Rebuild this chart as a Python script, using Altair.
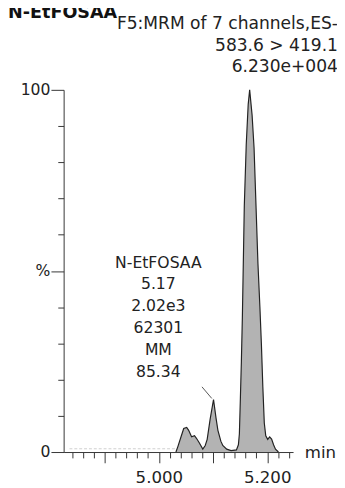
import altair as alt
import pandas as pd

# ---------------- data ----------------
time_min = [5.0315, 5.0351, 5.0405, 5.0459, 5.0514, 5.0550, 5.0604, 5.0658, 5.0694,
            5.0748, 5.0811, 5.0856, 5.0892, 5.0946, 5.1009, 5.1054, 5.1090, 5.1144,
            5.1180, 5.1252, 5.1333, 5.1432, 5.1468, 5.1486, 5.1505, 5.1523, 5.1541,
            5.1577, 5.1613, 5.1649, 5.1676, 5.1721, 5.1757, 5.1793, 5.1829, 5.1865,
            5.1892, 5.1919, 5.1946, 5.1973, 5.2009, 5.2045, 5.2081, 5.2117, 5.2153,
            5.2207]
intensity_pct = [0.0, 1.5, 4.0, 6.5, 6.8, 6.0, 4.2, 4.5, 3.8,
                 2.5, 0.8, 1.8, 3.5, 9.0, 14.5, 9.5, 6.0, 3.0,
                 1.8, 0.8, 0.4, 0.6, 2.0, 5.0, 15.0, 25.0, 37.0,
                 68.0, 85.0, 96.0, 100.0, 93.0, 84.0, 68.0, 52.0, 40.0,
                 30.0, 18.0, 8.0, 4.5, 3.5, 4.2, 3.6, 2.0, 0.8,
                 0.0]

baseline_time = [4.835, 5.030]
baseline_pct = [0.9, 0.9]

leader_time = [5.0796, 5.0977]
leader_pct = [18.0, 14.8]

x_ticks = [4.84, 4.86, 4.88, 4.90, 4.92, 4.94, 4.96, 4.98, 5.00, 5.02, 5.04,
           5.06, 5.08, 5.10, 5.12, 5.14, 5.16, 5.18, 5.20, 5.22, 5.24]
y_ticks = [0, 10, 20, 30, 40, 50, 60, 70, 80, 90, 100]

compound_title = "N-EtFOSAA"
header_lines = ["F5:MRM of 7 channels,ES-", "583.6 > 419.1", "6.230e+004"]
peak_label_lines = ["N-EtFOSAA", "5.17", "2.02e3", "62301", "MM", "85.34"]
x_unit = "min"

FONT = "DejaVu Sans"
INK = "#222222"

trace = pd.DataFrame({"t": time_min, "pct": intensity_pct})
base = pd.DataFrame({"t": baseline_time, "pct": baseline_pct})
leader = pd.DataFrame({"t": [leader_time[0]], "t2": [leader_time[1]],
                       "pct": [leader_pct[0]], "pct2": [leader_pct[1]]})
one_row = pd.DataFrame({"k": [0]})

x_scale = alt.Scale(domain=[4.8243, 5.2477], nice=False, zero=False)
y_scale = alt.Scale(domain=[0, 100], nice=False, zero=True)

x_axis = alt.Axis(
    values=x_ticks, tickCount=100, title=None, grid=False,
    labelExpr="abs(datum.value-5)<0.001 ? '5.000' : (abs(datum.value-5.2)<0.001 ? '5.200' : '')",
    tickSize={"condition": {"test": "abs(datum.value*10 - round(datum.value*10)) < 0.001", "value": 11}, "value": 6},
    labelFont=FONT, labelFontSize=17, labelColor=INK, labelPadding=7,
    labelFlush=False, labelOverlap=False,
    domainColor="#333333", tickColor="#333333", domainWidth=1, tickWidth=1,
)
y_axis = alt.Axis(
    values=y_ticks, tickCount=100, title=None, grid=False,
    labelExpr="datum.value==100 ? '100' : (datum.value==50 ? '%' : (datum.value==0 ? '0' : ''))",
    tickSize={"condition": {"test": "datum.value % 50 === 0", "value": 13}, "value": 6},
    labelFont=FONT, labelFontSize=16, labelColor=INK, labelPadding=1,
    labelFlush=False, labelOverlap=False,
    domainColor="#333333", tickColor="#333333", domainWidth=1, tickWidth=1,
)

area = alt.Chart(trace).mark_area(
    color="#b3b3b3", opacity=1, interpolate="linear",
    line={"color": INK, "strokeWidth": 1.2},
).encode(
    x=alt.X("t:Q", scale=x_scale, axis=x_axis),
    y=alt.Y("pct:Q", scale=y_scale, axis=y_axis),
)

noise = alt.Chart(base).mark_line(color="#cfcfcf", strokeWidth=1, strokeDash=[3, 2]).encode(
    x=alt.X("t:Q", scale=x_scale), y=alt.Y("pct:Q", scale=y_scale)
)

lead = alt.Chart(leader).mark_rule(color="#555555", strokeWidth=1).encode(
    x=alt.X("t:Q", scale=x_scale), x2="t2:Q",
    y=alt.Y("pct:Q", scale=y_scale), y2="pct2:Q",
)

peak_text = alt.Chart(one_row).mark_text(
    font=FONT, fontSize=16, color=INK, align="center", baseline="alphabetic",
    lineHeight=22.4,
).encode(
    x=alt.value(97), y=alt.value(182), text=alt.value(peak_label_lines)
)

header_text = alt.Chart(one_row).mark_text(
    font=FONT, fontSize=17.5, color=INK, align="right", baseline="alphabetic",
    lineHeight=22,
).encode(
    x=alt.value(281), y=alt.value(-62), text=alt.value(header_lines)
)

title_text = alt.Chart(one_row).mark_text(
    font=FONT, fontSize=18, fontWeight="bold", color="#111111", align="left",
    baseline="alphabetic",
).encode(
    x=alt.value(-57), y=alt.value(-74), text=alt.value(compound_title)
)

unit_text = alt.Chart(one_row).mark_text(
    font=FONT, fontSize=17, color=INK, align="left", baseline="alphabetic",
).encode(
    x=alt.value(247), y=alt.value(377), text=alt.value(x_unit)
)

chart = alt.layer(noise, area, lead, peak_text, header_text, title_text, unit_text).properties(
    width=235, height=371,
    autosize=alt.AutoSizeParams(type="none"),
    padding={"left": 57, "top": 78, "right": 45, "bottom": 31},
    background="white",
).configure_view(stroke=None)

chart.save("out.html", embed_options={"renderer": "svg", "actions": False})
